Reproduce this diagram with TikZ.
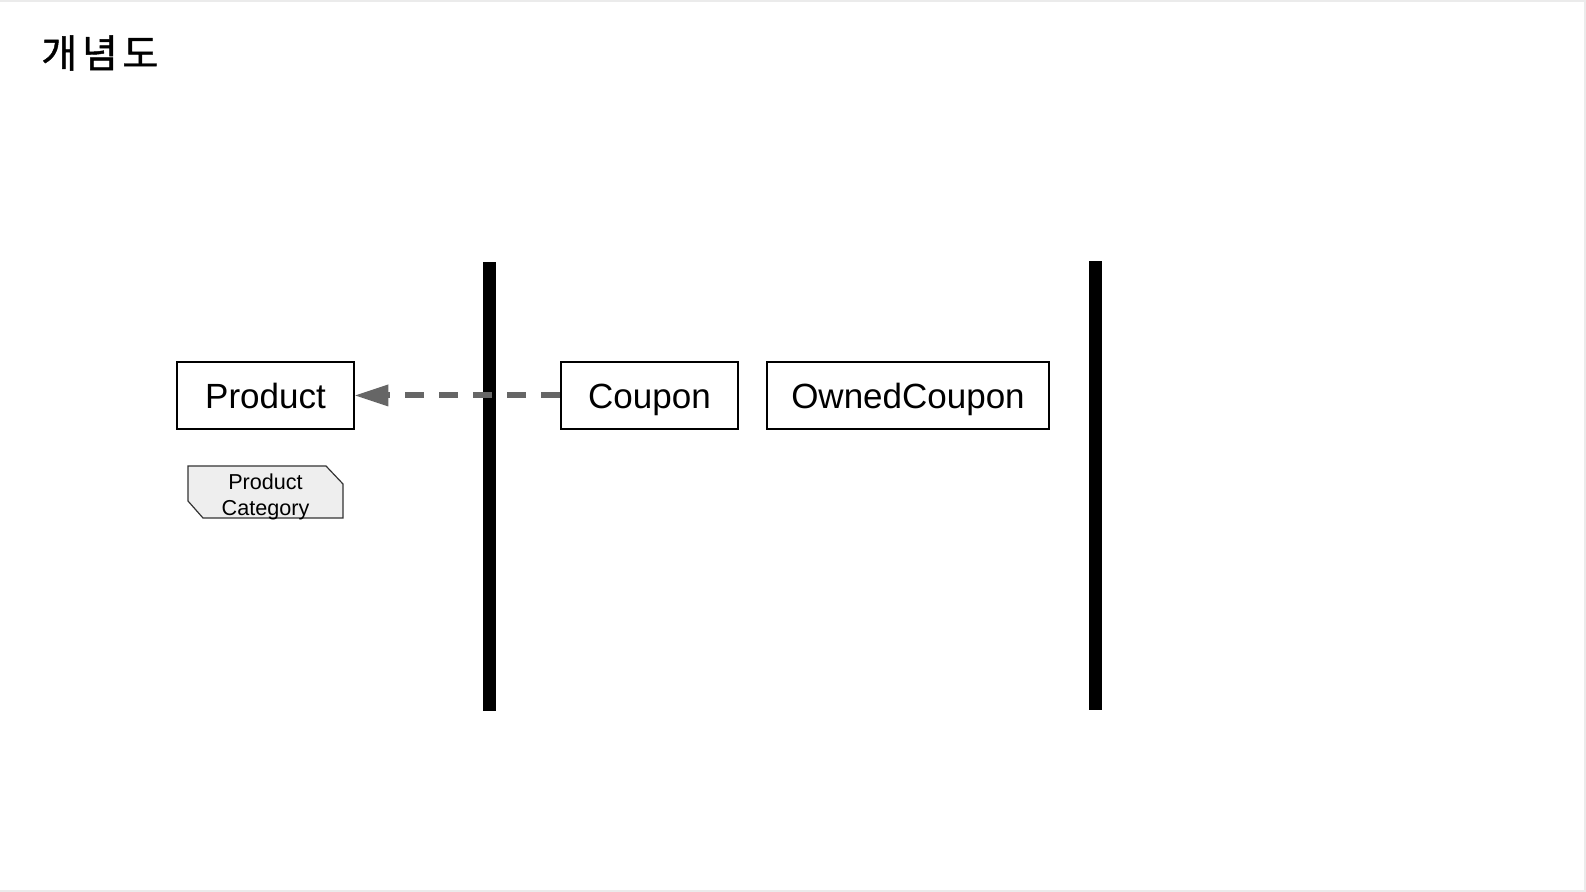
\documentclass[tikz,border=0pt]{standalone}
\usepackage{fontspec}
\setmainfont{Liberation Sans}
\newfontfamily\krfont[LetterSpace=12,FakeBold=1.2]{Noto Sans CJK KR}
\usetikzlibrary{arrows.meta}
\definecolor{dashgray}{HTML}{666666}
\definecolor{tagfill}{HTML}{EEEEEE}
\definecolor{tagline}{HTML}{333333}
\definecolor{frameline}{HTML}{EBEBEB}
\tikzset{
  entity/.style={draw=black, line width=1.25pt, fill=white, inner sep=0pt,
    minimum height=33.5pt, text height=13.5pt, text depth=0pt,
    font=\fontsize{17.5pt}{21pt}\selectfont},
  boundary/.style={fill=black, draw=none},
  depend/.style={draw=dashgray, line width=3pt, dash pattern=on 9.5pt off 7.5pt,
    -{Triangle[length=16.5pt,width=11pt,line width=0pt]}},
  tagshape/.style={fill=tagfill, draw=tagline, line width=0.6pt},
}
\begin{document}
\begin{tikzpicture}[x=0.5pt,y=-0.5pt]
\useasboundingbox (0,0) rectangle (1586,892);
\fill[white] (0,0) rectangle (1586,892);
\draw[frameline, line width=0.8pt] (0,0.8) -- (1585.2,0.8) -- (1585.2,891.2) -- (0,891.2);
% title
\node[anchor=west, inner sep=0pt, font=\krfont\fontsize{19.5pt}{23pt}\selectfont] (title) at (41,53) {개념도};
% boundaries
\fill[boundary] (482.5,262) rectangle (495.5,711);
\fill[boundary] (1089,261) rectangle (1102,710.5);
% entities
\node[entity, minimum width=88.5pt] (product) at (265.5,395.5) {Product};
\node[entity, minimum width=88.5pt] (coupon) at (649.5,395.5) {Coupon};
\node[entity, minimum width=141pt] (owned) at (908,395.5) {OwnedCoupon};
% product category tag
\draw[tagshape] (188,466) -- (326,466) -- (343,484) -- (343,518) -- (203,518) -- (188,501) -- cycle;
\node[align=center, inner sep=0pt, font=\fontsize{10.8pt}{12.6pt}\selectfont] (category) at (265.5,497) {Product\\Category};
% dependency
\draw[depend] (coupon.west) -- (product.east);
\end{tikzpicture}
\end{document}
